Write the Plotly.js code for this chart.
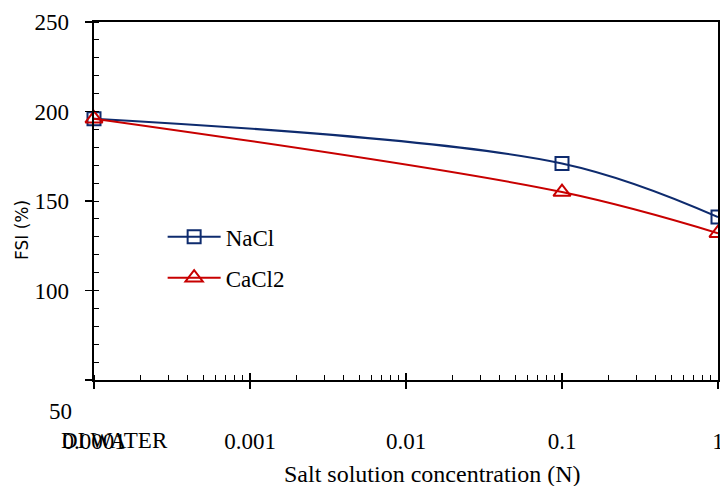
<!DOCTYPE html>
<html>
<head>
<meta charset="utf-8">
<script src="https://cdn.plot.ly/plotly-3.0.1.min.js"></script>
<style>html,body{margin:0;padding:0;background:#fff;}#chart{width:720px;height:486px;}</style>
</head>
<body>
<div id="chart"></div>
<script>
// Data
const concentration = [0.0001, 0.1, 1];
const fsiNaCl = [196, 171, 141];
const fsiCaCl2 = [196, 155, 132];
const xTickVals = [0.0001, 0.001, 0.01, 0.1, 1];
const xTickText = ['0.0001', '0.001', '0.01', '0.1', '1'];
const yTickVals = [50, 100, 150, 200, 250];
const yTickText = ['', '100', '150', '200', '250'];
const seriesNames = ['NaCl', 'CaCl2'];

const serif = 'Liberation Serif, Times New Roman, serif';
const navy = '#0e2b6e';
const red = '#c80000';

const traces = [
  {
    x: concentration, y: fsiNaCl, name: seriesNames[0], type: 'scatter', mode: 'lines+markers',
    line: {color: navy, width: 2, shape: 'spline', smoothing: 1},
    marker: {symbol: 'square-open', size: 13, color: navy, line: {width: 2, color: navy}},
    cliponaxis: false, legendgroup: 'a'
  },
  {
    x: concentration, y: fsiCaCl2, name: seriesNames[1], type: 'scatter', mode: 'lines+markers',
    line: {color: red, width: 2, shape: 'spline', smoothing: 1},
    marker: {symbol: 'triangle-up-open', size: 15, color: red, line: {width: 2, color: red}},
    cliponaxis: false, legendgroup: 'b'
  },
  { x: [], y: [], xaxis: 'x2', yaxis: 'y', showlegend: false, hoverinfo: 'skip' }
];

const layout = {
  width: 720, height: 486,
  margin: {l: 94, r: 2, t: 22, b: 106},
  paper_bgcolor: '#fff', plot_bgcolor: '#fff',
  font: {family: serif, size: 23, color: '#000'},
  showlegend: true,
  legend: {
    x: 0.11, y: 0.46, xanchor: 'left', yanchor: 'top',
    bgcolor: 'rgba(0,0,0,0)', font: {family: serif, size: 23, color: '#000'},
    traceorder: 'grouped', tracegroupgap: 8, itemwidth: 53
  },
  xaxis: {
    type: 'log', range: [-4, 0], showgrid: false, zeroline: false,
    showline: true, linecolor: '#000', linewidth: 2, mirror: true,
    tickmode: 'array', tickvals: xTickVals, ticktext: xTickText,
    ticks: 'outside', ticklen: 7, tickwidth: 1.5, tickcolor: '#000',
    tickfont: {family: serif, size: 23, color: '#000'},
    ticklabelstandoff: 32, ticklabeloverflow: 'allow',
    minor: {dtick: 'D1', ticks: 'inside', ticklen: 5, tickwidth: 1, tickcolor: '#000', showgrid: false}
  },
  xaxis2: {
    type: 'log', range: [-4, 0], overlaying: 'x', anchor: 'y', side: 'bottom',
    showgrid: false, zeroline: false, showline: false,
    tickmode: 'array', tickvals: xTickVals, ticks: 'inside', ticklen: 7, tickwidth: 1.5,
    tickcolor: '#000', showticklabels: false
  },
  yaxis: {
    range: [50, 250], showgrid: false, zeroline: false,
    showline: true, linecolor: '#000', linewidth: 2, mirror: true,
    tickmode: 'array', tickvals: yTickVals, ticktext: yTickText.map(t => t ? t + '\u2002' : t),
    ticks: 'outside', ticklen: 7, tickwidth: 1.5, tickcolor: '#000',
    tickfont: {family: serif, size: 23, color: '#000'},
    minor: {dtick: 10, ticks: 'inside', ticklen: 5, tickwidth: 1, tickcolor: '#000', showgrid: false}
  },
  annotations: [
    {text: 'FSI (%)', textangle: -90, xref: 'paper', x: 0, xanchor: 'center', xshift: -72,
     yref: 'paper', y: 0.419, yanchor: 'middle', showarrow: false,
     font: {family: 'DejaVu Sans, sans-serif', size: 17, color: '#000'}},
    {text: '50', xref: 'paper', x: 0, xanchor: 'right', xshift: -20, yref: 'y', y: 50, yanchor: 'middle', yshift: -31,
     showarrow: false, font: {family: serif, size: 23, color: '#000'}},
    {text: 'DI WATER', xref: 'x', x: Math.log10(concentration[0]), xanchor: 'center', xshift: 20, yref: 'paper', y: 0, yanchor: 'middle', yshift: -60,
     showarrow: false, font: {family: serif, size: 23, color: '#000'}},
    {text: 'Salt solution concentration (N)', xref: 'paper', x: 0.543, xanchor: 'center', yref: 'paper', y: 0, yanchor: 'middle', yshift: -94,
     showarrow: false, font: {family: serif, size: 24, color: '#000'}}
  ]
};

Plotly.newPlot('chart', traces, layout, {displayModeBar: false, staticPlot: true});
</script>
</body>
</html>
